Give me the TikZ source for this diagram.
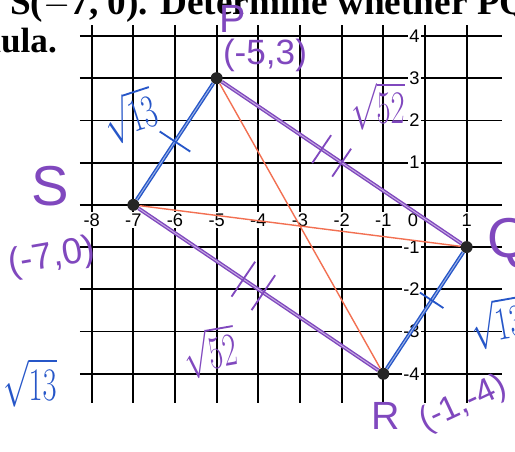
\documentclass[tikz,border=0pt]{standalone}
\usepackage{fontspec}
\setmainfont{Liberation Serif}
\setsansfont{Liberation Sans}
\usepackage{xcolor}
\usetikzlibrary{calc}
\definecolor{pen}{RGB}{128,72,190}
\definecolor{ink}{RGB}{38,86,200}
\definecolor{coral}{RGB}{242,112,82}

\begin{document}
\begin{tikzpicture}[x=1.042cm,y=1.056cm,
      gridl/.style={line width=1.3pt},
      axisl/.style={line width=1.9pt},
      num/.style={font=\sffamily\fontsize{13}{14}\selectfont,fill=white,inner sep=1pt},
      pt/.style={circle,fill=black!85,minimum size=0.3cm,inner sep=0pt},
      side/.style={line width=1pt,double distance=0.7pt},
      diag/.style={line width=1pt,color=coral},
      hash/.style={line width=1.3pt},
      hand/.style={font=\sffamily\fontsize{#1}{#1}\selectfont,inner sep=0pt},
      root/.style={font=\fontsize{20}{20}\selectfont,inner sep=0pt},
    ]
    \useasboundingbox (-10.2,-5.846) rectangle (2.16,4.852);
    \clip (-10.2,-5.846) rectangle (2.16,4.852);
    % printed text, cut by the page
    \node[anchor=base west,inner sep=0pt,font=\bfseries\fontsize{26.5}{30}\selectfont] (T1) at (-9.96,4.50) {S($-$7, 0). Determine whether PQRS};
    \node[anchor=base east,inner sep=0pt,font=\bfseries\fontsize{25}{27}\selectfont] (T2) at (-8.83,3.62) {formula.};
    % grid
    \foreach \y in {-4,...,4} \draw[gridl] (-8.28,\y) -- (1.85,\y);
    \foreach \x in {-8,...,1} \draw[gridl] (\x,-4.69) -- (\x,4.26);
    \draw[axisl] (-8.28,0) -- (1.85,0);
    \draw[axisl] (0,-4.69) -- (0,4.26);
    \foreach \x in {-8,-7,-6,-5,-4,-3,-2,-1,1} \node[num] (X\x) at (\x,-0.36) {\x};
    \node[num] (X0) at (-0.29,-0.36) {0};
    \foreach \y in {-4,-3,-2,-1,1,2,3,4} \node[num,anchor=east] (Y\y) at (-0.09,\y) {\y};
    % vertices
    \node[pt] (P) at (-5,3)  {};
    \node[pt] (Q) at (1,-1)  {};
    \node[pt] (R) at (-1,-4) {};
    \node[pt] (S) at (-7,0)  {};
    \draw[diag] (S) -- (Q);
    \draw[diag] (P) -- (R);
    \draw[side,draw=pen,double=pen!45] (P) -- (Q);
    \draw[side,draw=pen,double=pen!45] (S) -- (R);
    \draw[side,draw=ink,double=ink!45] (P) -- (S);
    \draw[side,draw=ink,double=ink!45] (Q) -- (R);
    % congruence marks
    \foreach \a/\b/\t/\l in {P/S/0.5/13pt, Q/R/0.42/10pt}
      \draw[hash,ink] ($(\a)!\t!(\b)!\l!90:(\b)$) -- ($(\a)!\t!(\b)!\l!-90:(\b)$);
    \foreach \a/\b/\t/\l in {P/Q/0.42/12pt, P/Q/0.5/12pt, S/R/0.44/15pt, S/R/0.52/15pt}
      \draw[hash,pen] ($(\a)!\t!(\b)!\l!90:(\b)$) -- ($(\a)!\t!(\b)!\l!-90:(\b)$);
    % handwriting
    \node[hand=28,pen] (Pn) at (-4.61,4.40) {P};
    \node[hand=25,pen] (Pc) at (-3.84,3.55) {(-5,3)};
    \node[hand=40,pen] (Sn) at (-9.0,0.45) {S};
    \node[hand=26,pen,rotate=10] (Sc) at (-8.95,-1.25) {(-7,0)};
    \node[hand=40,pen,anchor=west] (Qn) at (1.49,-0.90) {Q(};
    \node[hand=28,pen] (Rn) at (-0.95,-5.0) {R};
    \node[hand=24,pen,rotate=25] (Rc) at (0.92,-4.72) {(-1,-4)};
    \node[root,ink,rotate=18] (PS) at (-7.08,2.11) {\scalebox{1.05}[1.6]{$\sqrt{13}$}};
    \node[root,ink,rotate=10] (QR) at (1.73,-2.79) {\scalebox{1.05}[1.6]{$\sqrt{13}$}};
    \node[root,ink] (L13) at (-9.48,-4.21) {\scalebox{1.05}[1.6]{$\sqrt{13}$}};
    \node[root,pen] (PQ) at (-1.13,2.34) {\scalebox{1.05}[1.6]{$\sqrt{52}$}};
    \node[root,pen,rotate=10] (SR) at (-5.16,-3.48) {\scalebox{1.05}[1.6]{$\sqrt{52}$}};
  \end{tikzpicture}
\end{document}
